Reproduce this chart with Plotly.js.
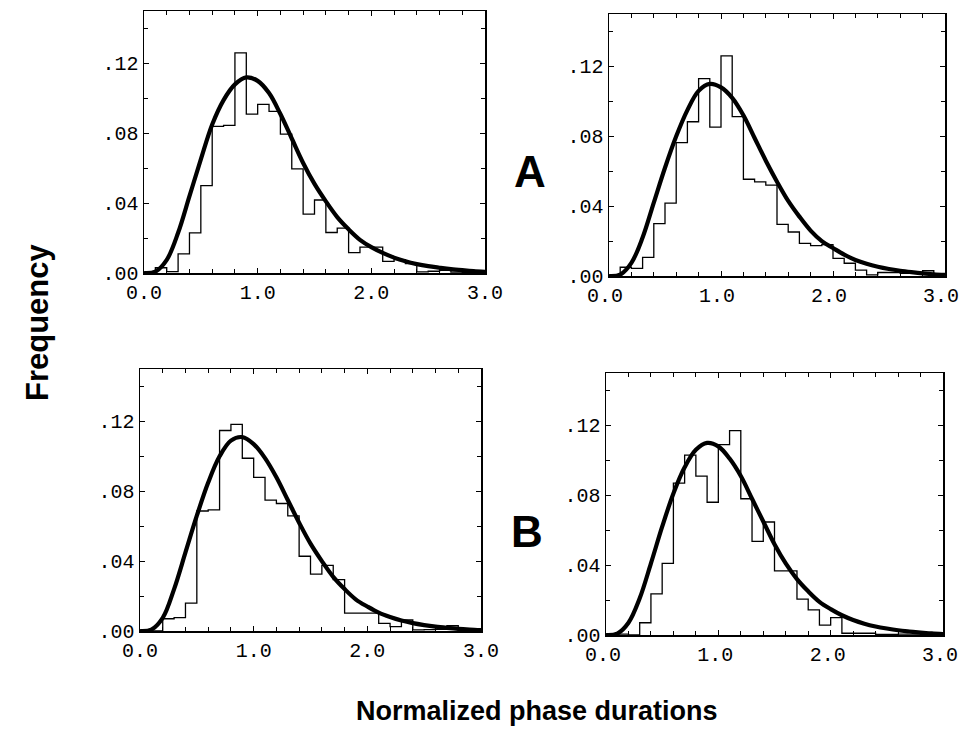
<!DOCTYPE html>
<html>
<head>
<meta charset="utf-8">
<script src="https://cdn.plot.ly/plotly-3.0.1.min.js"></script>
<style>html,body{margin:0;padding:0;background:#fff;}#chart{width:962px;height:748px;}</style>
</head>
<body>
<div id="chart"></div>
<script>
// Bin left edges (bin width 0.1) and curve sample points
const binLeft = [0.0,0.1,0.2,0.3,0.4,0.5,0.6,0.7,0.8,0.9,1.0,1.1,1.2,1.3,1.4,1.5,1.6,1.7,1.8,1.9,2.0,2.1,2.2,2.3,2.4,2.5,2.6,2.7,2.8,2.9];
const binEnd = 3.0;
const curveX = [0.0,0.1,0.2,0.3,0.4,0.5,0.6,0.7,0.8,0.9,1.0,1.1,1.2,1.3,1.4,1.5,1.6,1.7,1.8,1.9,2.0,2.1,2.2,2.3,2.4,2.5,2.6,2.7,2.8,2.9,3.0];

// Histogram frequencies
const histTopLeft = [0,0.003,0.0008,0.011,0.023,0.050,0.084,0.0845,0.126,0.091,0.0965,0.0925,0.0795,0.0596,0.0337,0.0418,0.0232,0.0257,0.0117,0.0148,0.0148,0.0067,0.0077,0.0054,0.0006,0.001,0.0015,0.0005,0.0003,0];
const histTopRight = [0,0.005,0.0044,0.0107,0.030,0.0417,0.0764,0.0883,0.113,0.0852,0.126,0.0913,0.0554,0.0539,0.052,0.0296,0.0252,0.0187,0.0174,0.018,0.0101,0.0073,0.0034,0.0006,0.002,0.002,0.0015,0.002,0.003,0.001];
const histBottomLeft = [0,0,0.007,0.0077,0.016,0.0687,0.0693,0.1148,0.1183,0.0989,0.0879,0.0749,0.073,0.0659,0.0428,0.0326,0.0376,0.0294,0.0102,0.0102,0.0102,0.0044,0.0025,0.0063,0.0006,0.0008,0.001,0.003,0.0003,0];
const histBottomRight = [0,0.0005,0,0.007,0.0235,0.041,0.087,0.103,0.091,0.076,0.109,0.117,0.078,0.0536,0.0647,0.0367,0.0367,0.0205,0.0144,0.0057,0.010,0.001,0.001,0.001,0.0003,0.0003,0.0005,0.0005,0.0002,0];

// Fitted curves
const fitTopLeft = [0,0.0008,0.0075,0.023,0.044,0.065,0.085,0.099,0.108,0.112,0.110,0.103,0.091,0.077,0.063,0.051,0.041,0.032,0.025,0.019,0.0148,0.0115,0.0088,0.0067,0.0051,0.0039,0.003,0.0022,0.0016,0.0011,0.0007];
const fitTopRight = [0,0.0008,0.0075,0.022,0.042,0.062,0.080,0.095,0.106,0.110,0.108,0.102,0.092,0.079,0.066,0.054,0.043,0.034,0.026,0.020,0.016,0.0122,0.0092,0.007,0.0053,0.004,0.003,0.0022,0.0015,0.001,0.0006];
const fitBottomLeft = [0,0.0008,0.0075,0.024,0.045,0.066,0.085,0.100,0.109,0.111,0.107,0.099,0.088,0.075,0.062,0.050,0.040,0.031,0.024,0.018,0.014,0.0105,0.008,0.006,0.0045,0.0034,0.0025,0.0018,0.0012,0.0008,0.0005];
const fitBottomRight = [0,0.0008,0.007,0.021,0.041,0.062,0.081,0.096,0.106,0.110,0.108,0.101,0.091,0.078,0.065,0.052,0.041,0.032,0.025,0.019,0.0148,0.0113,0.0086,0.0065,0.0049,0.0037,0.0027,0.002,0.0014,0.0009,0.0005];

const yTickVals = [0, 0.04, 0.08, 0.12];
const yTickText = ['.00', '.04', '.08', '.12'];

const panels = [
  {hist: histTopLeft, fit: fitTopLeft, xd: [144/962, 485/962], yd: [1-273/748, 1-11/748], shift: 0},
  {hist: histTopRight, fit: fitTopRight, xd: [609/962, 945/962], yd: [1-276/748, 1-14/748], shift: -4},
  {hist: histBottomLeft, fit: fitBottomLeft, xd: [140/962, 481/962], yd: [1-631/748, 1-369/748], shift: 0},
  {hist: histBottomRight, fit: fitBottomRight, xd: [606/962, 943/962], yd: [1-635/748, 1-373/748], shift: -3}
];

const tickFont = {family: 'Liberation Mono, Courier New, monospace', size: 20, color: '#000'};
const data = [];
const layout = {
  width: 962, height: 748,
  margin: {l: 0, r: 0, t: 0, b: 0},
  paper_bgcolor: '#fff', plot_bgcolor: '#fff',
  showlegend: false,
  annotations: []
};

panels.forEach((p, i) => {
  const n = i === 0 ? '' : String(i + 1);
  const xa = 'x' + n, ya = 'y' + n;
  data.push({
    type: 'scatter', mode: 'lines',
    x: binLeft.concat([binEnd]),
    y: p.hist.concat([p.hist[p.hist.length - 1]]),
    line: {shape: 'hv', color: '#000', width: 1.3},
    xaxis: xa, yaxis: ya, hoverinfo: 'skip'
  });
  data.push({
    type: 'scatter', mode: 'lines',
    x: curveX, y: p.fit,
    line: {shape: 'spline', smoothing: 1, color: '#000', width: 4.2},
    xaxis: xa, yaxis: ya, hoverinfo: 'skip'
  });
  layout['xaxis' + n] = {
    domain: p.xd, anchor: ya, range: [0, 3],
    tickmode: 'linear', tick0: 0, dtick: 1, tickformat: '.1f',
    ticks: 'inside', ticklen: 5, tickwidth: 1, tickcolor: '#000',
    minor: {dtick: 0.2, ticks: 'inside', ticklen: 4, tickwidth: 1, tickcolor: '#000'},
    showline: true, linecolor: '#000', linewidth: 1.5, mirror: 'ticks',
    showgrid: false, zeroline: false, tickfont: tickFont, fixedrange: true,
    ticklabeloverflow: 'allow', ticklabelshift: p.shift
  };
  layout['yaxis' + n] = {
    domain: p.yd, anchor: xa, range: [0, 0.15],
    tickmode: 'array', tickvals: yTickVals, ticktext: yTickText,
    ticks: 'inside', ticklen: 5, tickwidth: 1, tickcolor: '#000',
    minor: {tickmode: 'linear', tick0: 0, dtick: 0.02, ticks: 'inside', ticklen: 4, tickwidth: 1, tickcolor: '#000'},
    showline: true, linecolor: '#000', linewidth: 1.5, mirror: 'ticks',
    showgrid: false, zeroline: false, tickfont: tickFont, fixedrange: true,
    ticklabeloverflow: 'allow'
  };
});

const bigFont = {family: 'Liberation Sans, Arial, sans-serif', size: 44, color: '#000', weight: 700};
const yLabFont = {family: 'Liberation Sans, Arial, sans-serif', size: 31, color: '#000', weight: 700};
const xLabFont = {family: 'Liberation Sans, Arial, sans-serif', size: 27, color: '#000', weight: 700};
layout.annotations.push(
  {xref: 'paper', yref: 'paper', x: 530/962, y: 1-171/748, text: 'A', showarrow: false, font: bigFont, xanchor: 'center', yanchor: 'middle'},
  {xref: 'paper', yref: 'paper', x: 527/962, y: 1-531/748, text: 'B', showarrow: false, font: bigFont, xanchor: 'center', yanchor: 'middle'},
  {xref: 'paper', yref: 'paper', x: 38/962, y: 1-322/748, text: 'Frequency', textangle: -90, showarrow: false, font: yLabFont, xanchor: 'center', yanchor: 'middle'},
  {xref: 'paper', yref: 'paper', x: 537/962, y: 1-711/748, text: 'Normalized phase durations', showarrow: false, font: xLabFont, xanchor: 'center', yanchor: 'middle'}
);

Plotly.newPlot('chart', data, layout, {staticPlot: true, displayModeBar: false});
</script>
</body>
</html>
